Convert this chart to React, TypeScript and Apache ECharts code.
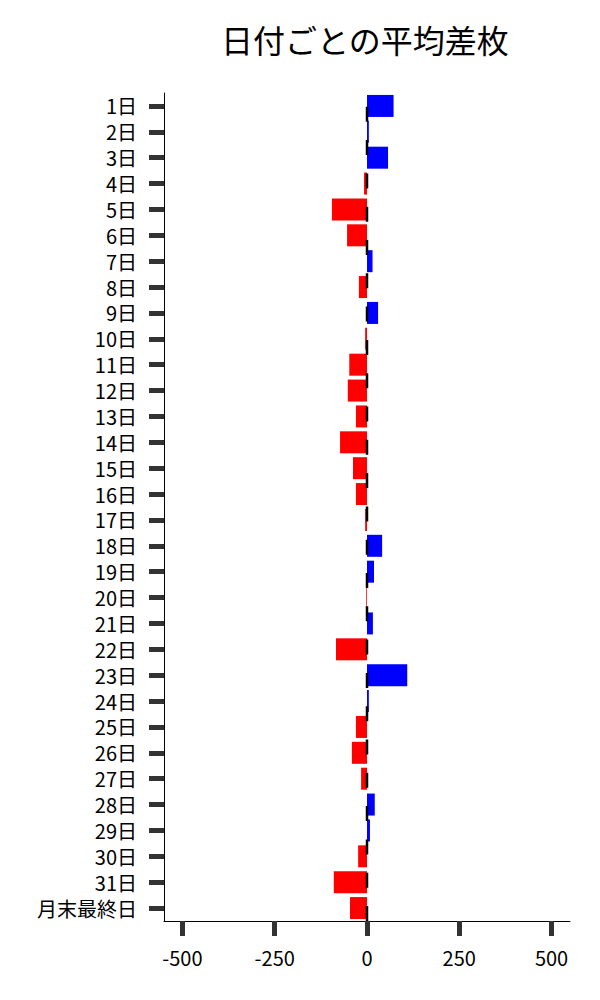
import React, { useEffect, useRef } from "react";
import * as echarts from "echarts";

const categories = [
  "1日", "2日", "3日", "4日", "5日", "6日", "7日", "8日", "9日", "10日",
  "11日", "12日", "13日", "14日", "15日", "16日", "17日", "18日", "19日", "20日",
  "21日", "22日", "23日", "24日", "25日", "26日", "27日", "28日", "29日", "30日",
  "31日", "月末最終日",
];

const avgDiff = [
  72, 5, 57, -8, -95, -54, 15, -22, 30, -5,
  -48, -52, -30, -73, -38, -30, -5, 41, 19, -2,
  16, -84, 109, 5, -30, -41, -16, 21, 8, -24,
  -90, -46,
];

const xTicks = [-500, -250, 0, 250, 500];
const titleText = "日付ごとの平均差枚";

const FONT = '"Noto Sans CJK JP", "Noto Sans", sans-serif';

export default function App() {
  const ref = useRef<HTMLDivElement>(null);
  useEffect(() => {
    document.body.style.margin = "0";
    const chart = echarts.init(ref.current!, null, { renderer: "svg" });
    chart.setOption({
      animation: false,
      textStyle: { fontFamily: FONT },
      title: {
        text: titleText,
        left: 221,
        top: 23,
        padding: 0,
        textStyle: { fontSize: 32, fontWeight: "normal", color: "#000", fontFamily: FONT },
      },
      grid: { left: 164, right: 30, top: 93, bottom: 79, containLabel: false },
      xAxis: {
        type: "value",
        min: -550,
        max: 550,
        splitLine: { show: false },
        axisLine: { show: true, onZero: false, lineStyle: { color: "#000", width: 1 } },
        axisTick: {
          show: true,
          customValues: xTicks,
          length: 15,
          lineStyle: { color: "#333", width: 5 },
        },
        axisLabel: {
          customValues: xTicks,
          fontSize: 20,
          lineHeight: 20,
          color: "#000",
          margin: 26,
          fontFamily: FONT,
        },
      },
      yAxis: [
        {
          type: "category",
          data: categories,
          inverse: true,
          axisLine: { show: true, onZero: false, lineStyle: { color: "#000", width: 1 } },
          axisTick: {
            show: true,
            alignWithLabel: true,
            interval: 0,
            length: 15,
            lineStyle: { color: "#333", width: 5 },
          },
          axisLabel: {
            interval: 0,
            fontSize: 20,
            lineHeight: 20,
            color: "#000",
            margin: 27,
            fontFamily: FONT,
          },
          splitLine: { show: false },
        },
        {
          type: "value",
          min: 0,
          max: 1,
          show: false,
        },
      ],
      series: [
        {
          type: "bar",
          yAxisIndex: 0,
          barCategoryGap: "15%",
          data: avgDiff.map((v) => ({
            value: v,
            itemStyle: { color: v >= 0 ? "#0000ff" : "#ff0000" },
          })),
          z: 2,
        },
        {
          type: "line",
          yAxisIndex: 1,
          data: [
            [0, 0],
            [0, 1],
          ],
          symbol: "none",
          silent: true,
          lineStyle: { color: "#000", width: 2.5, type: [15, 18.3], dashOffset: 0 },
          z: 5,
        },
      ],
    });
    return () => chart.dispose();
  }, []);
  return <div ref={ref} style={{ width: 600, height: 1000 }} />;
}
